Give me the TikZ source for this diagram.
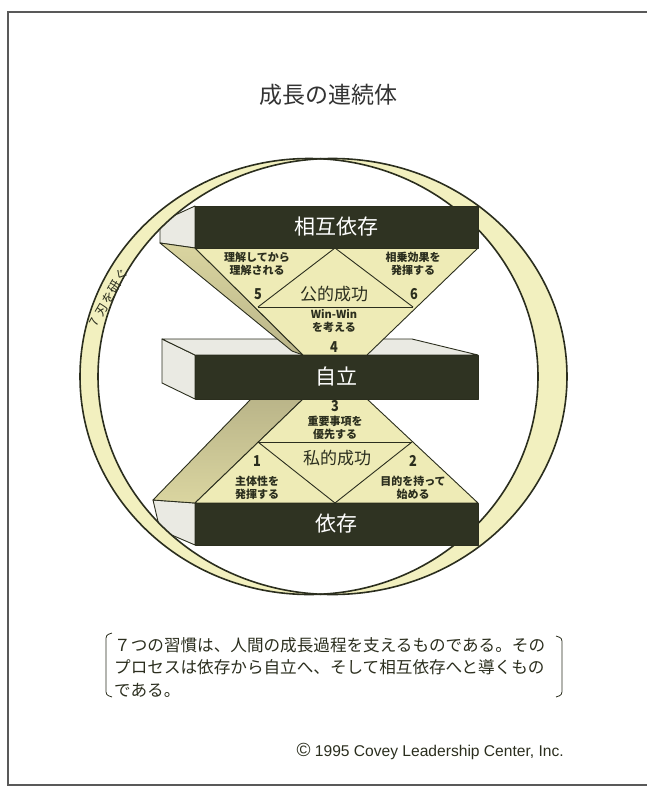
\documentclass[tikz,border=0pt]{standalone}
\usepackage{fontspec}
\setmainfont{Noto Sans CJK JP}
\newfontfamily\latinfont{Liberation Sans}

\definecolor{barcol}{HTML}{2F3322}
\definecolor{linecol}{HTML}{2B2E1E}
\definecolor{ringcol}{HTML}{F2F0BF}
\definecolor{tricol}{HTML}{EEEBB6}
\definecolor{bandtop}{HTML}{DAD5A0}
\definecolor{bandlow}{HTML}{BAB589}
\definecolor{facecol}{HTML}{EAEAE3}

\tikzset{
  rim/.style={draw=linecol, line width=0.9pt, line join=round},
  darkbar/.style={rim, fill=barcol, text=white, inner sep=0pt,
    font=\fontsize{21}{21}\selectfont, minimum width=283pt},
  sideface/.style={rim, fill=facecol},
  tri/.style={rim, fill=tricol},
  small/.style={font=\bfseries\fontsize{11}{12.5}\selectfont, align=center, text=linecol, inner sep=0pt},
  num/.style={font=\bfseries\fontsize{15}{15}\selectfont, text=linecol, inner sep=0pt, xscale=0.85},
  success/.style={font=\fontsize{17}{17}\selectfont, text=linecol, inner sep=0pt},
}

\begin{document}
\begin{tikzpicture}[x=1pt, y=-1pt]
    \useasboundingbox (0,0) rectangle (646,787);
    % page frame, open to the right
    \draw[black!65, line width=1.2pt] (660,12) -- (8,12) -- (8,785) -- (660,785);

    \node[font=\fontsize{23}{23}\selectfont, text=black!80] (title) at (328,95) {成長の連続体};

    % side faces of the three bars, top face of the middle one
    \path[sideface] (195,206) -- (160,222) -- (160,243) -- (195,248) -- cycle;
    \path[sideface] (162,339) -- (162,383) -- (195,399) -- (195,355) -- cycle;
    \path[sideface] (153,500) -- (195,503) -- (195,545) -- (160,530) -- cycle;
    \path[sideface] (162,339) -- (412,339) -- (478,355) -- (195,355) -- cycle;

    % the twisted ring
    \fill[ringcol, even odd rule] (309,376.5) ellipse [x radius=229, y radius=218]
        (332.5,376.5) ellipse [x radius=234.5, y radius=218];
    \draw[rim, line width=1.6pt] (309,376.5) ellipse [x radius=229, y radius=218];
    \draw[rim, line width=1.6pt] (332.5,376.5) ellipse [x radius=234.5, y radius=218];
    \node[rotate=60, font=\fontsize{12.5}{12.5}\selectfont, text=linecol, inner sep=0pt] (sharpen) at (109,297) {7\,\,刃\kern1pt を\kern1pt 研\kern1pt ぐ};

    % thickness of the two trapezoids
    \path[rim, top color=bandtop, bottom color=bandlow] (160,243) -- (195,248) -- (303,355) -- (292,351) -- cycle;
    \path[rim, top color=bandlow, bottom color=bandtop] (251,399) -- (303,399) -- (195,503) -- (153,500) -- cycle;

    % public victory
    \path[tri] (195,248) -- (478,248) -- (367,355) -- (303,355) -- cycle;
    \draw[rim] (258,307) -- (413,307);
    \draw[rim] (258,307) -- (335,248) -- (413,307);

    % private victory
    \path[tri] (303,399) -- (367,399) -- (478,503) -- (195,503) -- cycle;
    \draw[rim] (258,442) -- (412,442);
    \draw[rim] (258,442) -- (335,503) -- (412,442);

    % the bars
    \node[darkbar, minimum height=42pt] (interdep) at (336.5,227) {相互依存};
    \node[darkbar, minimum height=44pt] (indep) at (336.5,377) {自立};
    \node[darkbar, minimum height=42pt] (dep) at (336.5,524) {依存};

    \node[small] (listen) at (257,264) {理解してから\\理解される};
    \node[num] (n5) at (258,294) {5};
    \node[success] (public) at (334,294) {公的成功};
    \node[num] (n6) at (414,294) {6};
    \node[small] (synergy) at (413,264) {相乗効果を\\発揮する};
    \node[small] (winwin) at (334,321) {Win-Win\\を考える};
    \node[num] (n4) at (334,347) {4};

    \node[num] (n3) at (335,406) {3};
    \node[small] (first) at (335,428) {重要事項を\\優先する};
    \node[success] (private) at (337,458) {私的成功};
    \node[num] (n1) at (257,461) {1};
    \node[small] (proactive) at (257,488) {主体性を\\発揮する};
    \node[num] (n2) at (413,461) {2};
    \node[small] (endmind) at (413,488) {目的を持って\\始める};

    % caption in brackets
    \draw[rim, line width=0.8pt] (112,633) .. controls (106,635) .. (106,642) -- (106,688)
        .. controls (106,695) .. (112,697);
    \draw[rim, line width=0.8pt] (556,636) .. controls (562,638) .. (562,645) -- (562,688)
        .. controls (562,695) .. (556,697);
    \node[anchor=north west, align=left, inner sep=0pt, text=linecol,
        font=\fontsize{16.6}{22.5}\selectfont] (note) at (114,637)
        {７つの習慣は、人間の成長過程を支えるものである。その\\
         プロセスは依存から自立へ、そして相互依存へと導くもの\\
         である。};

    \node[anchor=east, inner sep=0pt, text=linecol, font=\latinfont\fontsize{15.6}{15.6}\selectfont]
        (copy) at (564,751) {{\fontsize{19}{19}\selectfont ©} 1995 Covey Leadership Center, Inc.};
\end{tikzpicture}
\end{document}
